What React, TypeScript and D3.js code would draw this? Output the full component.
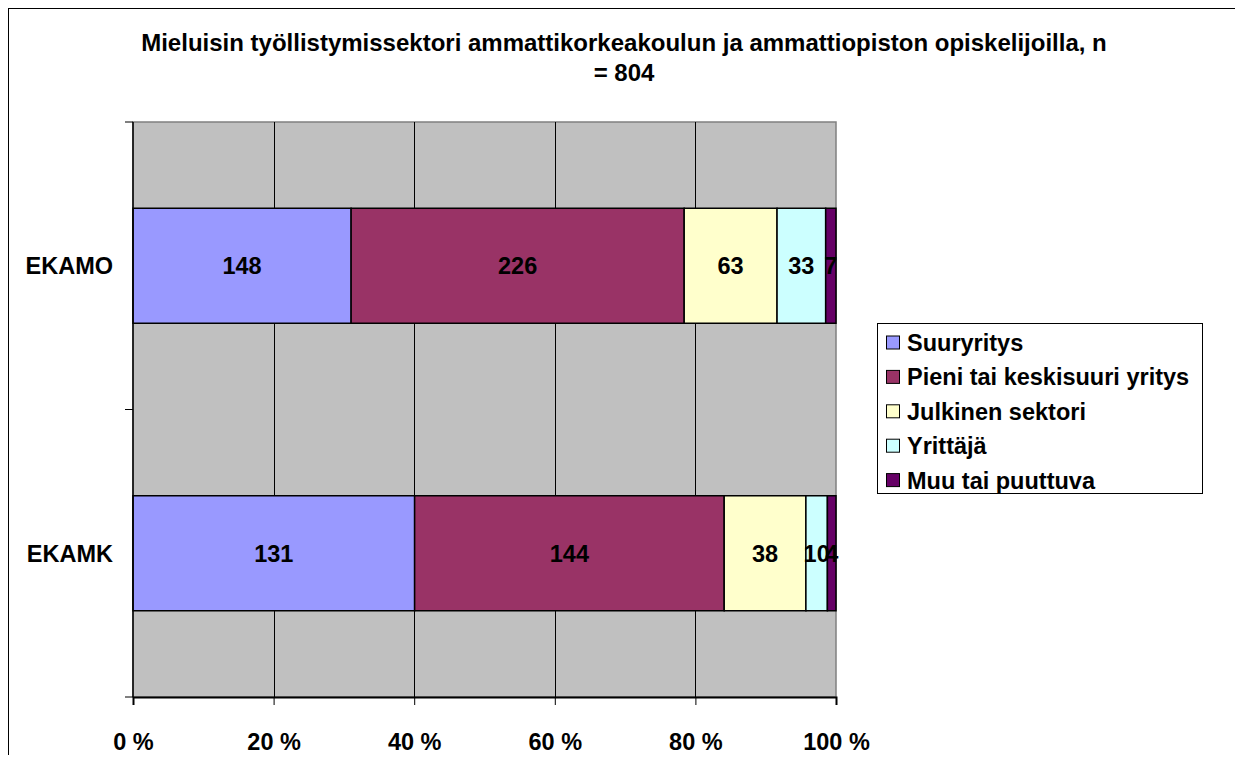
import { useEffect, useRef } from 'react';
import * as d3 from 'd3';

const CATEGORIES = ['EKAMO', 'EKAMK'];
const SERIES = ['Suuryritys', 'Pieni tai keskisuuri yritys', 'Julkinen sektori', 'Yrittäjä', 'Muu tai puuttuva'];
const COLORS = ['#9999FF', '#993366', '#FFFFCC', '#CCFFFF', '#660066'];
const EKAMO_VALUES = [148, 226, 63, 33, 7];
const EKAMK_VALUES = [131, 144, 38, 10, 4];
const X_TICKS = [0, 0.2, 0.4, 0.6, 0.8, 1];
const TITLE_LINES = ['Mieluisin työllistymissektori ammattikorkeakoulun ja ammattiopiston opiskelijoilla, n', '= 804'];

const FONT = '"Liberation Sans", Arial, sans-serif';

const App = () => {
  const svgRef = useRef<SVGSVGElement>(null);

  useEffect(() => {
    if (!svgRef.current) return;
    const width = 1243;
    const height = 763;
    const plot = { left: 133, right: 836, top: 122, bottom: 697 };

    const svg = d3.select(svgRef.current);
    svg.selectAll('*').remove();
    svg.attr('width', width).attr('height', height).style('display', 'block');

    // outer frame (bottom edge falls outside the picture)
    svg.append('path')
      .attr('d', `M8,${height} V8 H1238 V${height}`)
      .attr('fill', 'none').attr('stroke', '#000').attr('stroke-width', 2);

    // title
    const title = svg.append('text')
      .attr('text-anchor', 'middle')
      .style('font-family', FONT).style('font-weight', 'bold').style('font-size', '24px');
    TITLE_LINES.forEach((line, i) => {
      title.append('tspan').attr('x', 624).attr('y', 51 + i * 30).text(line);
    });

    const rows = CATEGORIES.map((c, i) => {
      const vals = i === 0 ? EKAMO_VALUES : EKAMK_VALUES;
      const total = d3.sum(vals);
      let acc = 0;
      return {
        cat: c,
        segs: vals.map((v, j) => {
          const s = { v, j, x0: acc / total, x1: (acc + v) / total };
          acc += v;
          return s;
        }),
      };
    });

    const x = d3.scaleLinear().domain([0, 1]).range([plot.left, plot.right]);
    const y = d3.scaleBand().domain(CATEGORIES).range([plot.top, plot.bottom]).paddingInner(0.6).paddingOuter(0.3);

    // plot background
    svg.append('rect')
      .attr('x', plot.left).attr('y', plot.top)
      .attr('width', plot.right - plot.left).attr('height', plot.bottom - plot.top)
      .attr('fill', '#C0C0C0').attr('stroke', '#808080').attr('stroke-width', 1.5);

    // vertical gridlines
    svg.append('g').selectAll('line')
      .data(X_TICKS.slice(1, -1)).join('line')
      .attr('x1', d => Math.round(x(d)) + 0.5).attr('x2', d => Math.round(x(d)) + 0.5)
      .attr('y1', plot.top).attr('y2', plot.bottom)
      .attr('stroke', '#000').attr('stroke-width', 1);

    // bars
    const g = svg.append('g');
    rows.forEach(r => {
      g.selectAll(null)
        .data(r.segs).join('rect')
        .attr('x', d => x(d.x0)).attr('y', y(r.cat)!)
        .attr('width', d => x(d.x1) - x(d.x0)).attr('height', y.bandwidth())
        .attr('fill', d => COLORS[d.j]).attr('stroke', '#000').attr('stroke-width', 1.5);
      g.selectAll(null)
        .data(r.segs).join('text')
        .attr('x', d => (x(d.x0) + x(d.x1)) / 2)
        .attr('y', y(r.cat)! + y.bandwidth() / 2)
        .attr('dy', '0.36em')
        .attr('text-anchor', 'middle')
        .style('font-family', FONT).style('font-weight', 'bold').style('font-size', '23.5px')
        .text(d => d.v);
    });

    // y axis
    const yTicks = [plot.top, (plot.top + plot.bottom) / 2, plot.bottom];
    svg.append('line')
      .attr('x1', plot.left).attr('x2', plot.left).attr('y1', plot.top).attr('y2', plot.bottom)
      .attr('stroke', '#000').attr('stroke-width', 1.5);
    svg.append('g').selectAll('line')
      .data(yTicks).join('line')
      .attr('x1', plot.left - 8).attr('x2', plot.left)
      .attr('y1', d => d).attr('y2', d => d)
      .attr('stroke', '#000').attr('stroke-width', 1);
    svg.append('g').selectAll('text')
      .data(CATEGORIES).join('text')
      .attr('x', 113).attr('y', d => y(d)! + y.bandwidth() / 2).attr('dy', '0.36em')
      .attr('text-anchor', 'end')
      .style('font-family', FONT).style('font-weight', 'bold').style('font-size', '23.5px')
      .text(d => d);

    // x axis
    const xAxis = svg.append('g')
      .attr('transform', `translate(0,${plot.bottom})`)
      .call(d3.axisBottom(x).tickValues(X_TICKS).tickSize(8).tickPadding(28)
        .tickFormat(d => `${Math.round(+d * 100)} %`));
    xAxis.select('.domain').attr('stroke', '#000').attr('stroke-width', 2);
    xAxis.selectAll('.tick line').attr('stroke', '#000');
    xAxis.selectAll('text')
      .style('font-family', FONT).style('font-weight', 'bold').style('font-size', '23.5px').attr('fill', '#000');

    // legend
    const lg = svg.append('g');
    lg.append('rect')
      .attr('x', 877.5).attr('y', 323.5).attr('width', 325).attr('height', 170)
      .attr('fill', '#fff').attr('stroke', '#000').attr('stroke-width', 1);
    SERIES.forEach((s, i) => {
      const cy = 342.5 + i * 34.4;
      lg.append('rect')
        .attr('x', 886.5).attr('y', cy - 6.5).attr('width', 13).attr('height', 13)
        .attr('fill', COLORS[i]).attr('stroke', '#000').attr('stroke-width', 1);
      lg.append('text')
        .attr('x', 907).attr('y', cy).attr('dy', '0.36em')
        .style('font-family', FONT).style('font-weight', 'bold').style('font-size', '23.5px')
        .text(s);
    });
  }, []);

  return (
    <div style={{ margin: -8 }}>
      <svg ref={svgRef} />
    </div>
  );
};

export default App;
